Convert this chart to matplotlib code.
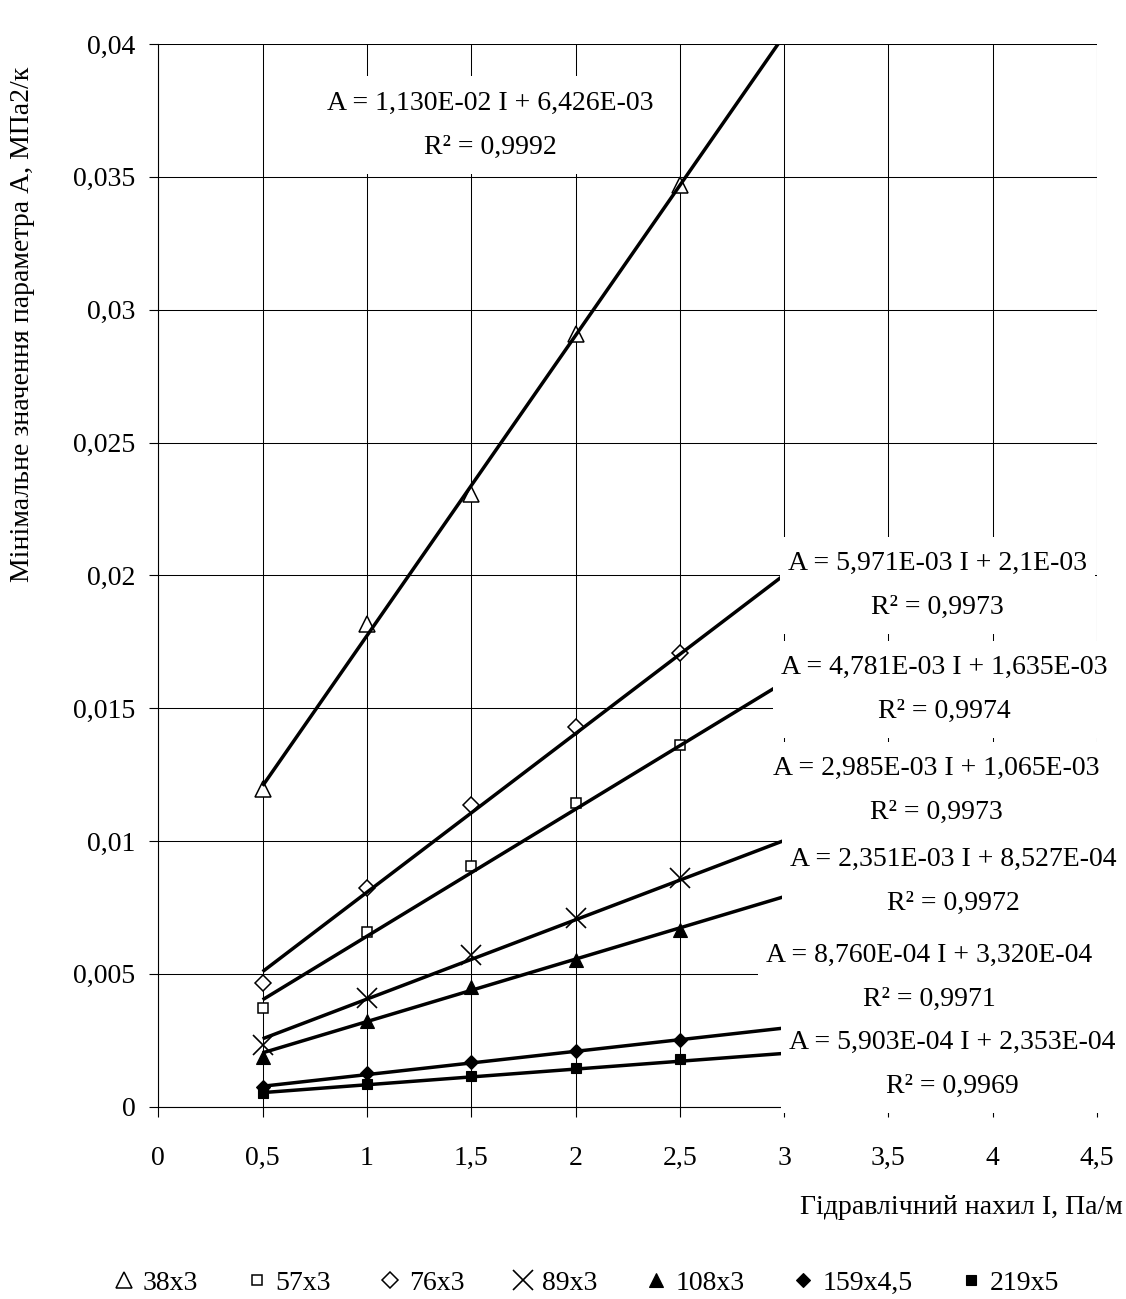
import matplotlib
matplotlib.use("Agg")
import matplotlib.pyplot as plt
from matplotlib.patches import Rectangle
import numpy as np

plt.rcParams['font.family'] = ['Liberation Serif', 'DejaVu Serif']

# ---------------- data ----------------
slope_I = [0.5, 1.0, 1.5, 2.0, 2.5]
series_names = ["38x3", "57x3", "76x3", "89x3", "108x3", "159x4,5", "219x5"]
a_38x3 = [0.01194, 0.01815, 0.02305, 0.02908, 0.03469]
a_57x3 = [0.00372, 0.00659, 0.00907, 0.01143, 0.01361]
a_76x3 = [0.00467, 0.00823, 0.01136, 0.01429, 0.01708]
a_89x3 = [0.00232, 0.00410, 0.00571, 0.00710, 0.00860]
a_108x3 = [0.00188, 0.00324, 0.00452, 0.00552, 0.00665]
a_159x45 = [0.00074, 0.00128, 0.00169, 0.00210, 0.00251]
a_219x5 = [0.00053, 0.00085, 0.00116, 0.00146, 0.00180]

# linear trend coefficients (slope, intercept) per series
trend_k = [1.130e-02, 4.781e-03, 5.971e-03, 2.985e-03, 2.351e-03, 8.760e-04, 5.903e-04]
trend_b = [6.426e-03, 1.635e-03, 2.1e-03, 1.065e-03, 8.527e-04, 3.320e-04, 2.353e-04]
trend_range = [0.5, 3.0]
eq_texts = ["A = 1,130E-02 I + 6,426E-03\nR² = 0,9992",
            "A = 4,781E-03 I + 1,635E-03\nR² = 0,9974",
            "A = 5,971E-03 I + 2,1E-03\nR² = 0,9973",
            "A = 2,985E-03 I + 1,065E-03\nR² = 0,9973",
            "A = 2,351E-03 I + 8,527E-04\nR² = 0,9972",
            "A = 8,760E-04 I + 3,320E-04\nR² = 0,9971",
            "A = 5,903E-04 I + 2,353E-04\nR² = 0,9969"]

x_ticks = [0, 0.5, 1, 1.5, 2, 2.5, 3, 3.5, 4, 4.5]
x_tick_labels = ["0", "0,5", "1", "1,5", "2", "2,5", "3", "3,5", "4", "4,5"]
y_ticks = [0, 0.005, 0.01, 0.015, 0.02, 0.025, 0.03, 0.035, 0.04]
y_tick_labels = ["0", "0,005", "0,01", "0,015", "0,02", "0,025", "0,03", "0,035", "0,04"]

all_series = [a_38x3, a_57x3, a_76x3, a_89x3, a_108x3, a_159x45, a_219x5]

# ---------------- styles ----------------
marker_styles = [
    dict(marker='^', ms=12, mfc='white', mec='black', mew=1.1),
    dict(marker='s', ms=7.5, mfc='white', mec='black', mew=1.1),
    dict(marker='D', ms=8.2, mfc='white', mec='black', mew=1.1),
    dict(marker='x', ms=15, mfc='none', mec='black', mew=1.2),
    dict(marker='^', ms=9.5, mfc='black', mec='black', mew=0.8),
    dict(marker='D', ms=7.6, mfc='black', mec='black', mew=0.8),
    dict(marker='s', ms=7.6, mfc='black', mec='black', mew=0.8),
]

W, H = 1126, 1299
def fx(px):
    return px / W
def fy(py):
    return 1 - py / H

FS = 20

fig = plt.figure(figsize=(W / 100, H / 100), dpi=100)
ax = fig.add_axes([fx(158.3), fy(1106.7), (1097 - 158.3) / W, (1106.7 - 44) / H])

ax.set_xlim(0, 4.5)
ax.set_ylim(0, 0.04)
ax.set_xticks(x_ticks)
ax.set_xticklabels(x_tick_labels, fontsize=FS)
ax.set_yticks(y_ticks)
ax.set_yticklabels(y_tick_labels, fontsize=FS)
ax.tick_params(axis='x', direction='out', length=7, width=0.8, pad=21)
ax.tick_params(axis='y', direction='out', length=6.5, width=0.8, pad=10)
ax.grid(True, color='black', linewidth=0.75, zorder=0)
ax.set_axisbelow(True)
for s in ['top', 'right']:
    ax.spines[s].set_visible(False)
for s in ['left', 'bottom']:
    ax.spines[s].set_linewidth(0.8)

handles = []
for name, vals, st in zip(series_names, all_series, marker_styles):
    h, = ax.plot(slope_I, vals, linestyle='none', label=name, zorder=3, **st)
    handles.append(h)

xt = np.array(trend_range)
for k, b in zip(trend_k, trend_b):
    ax.plot(xt, k * xt + b, color='black', linewidth=2.5, zorder=4,
            solid_capstyle='butt')

# equation labels (centre positions in pixels)
label_pos = [(490, 125), (944, 689), (937.5, 585), (936, 790),
             (953.5, 881.5), (929, 977.5), (952, 1064)]
eq_artists = []
for txt, (px, py) in zip(eq_texts, label_pos):
    t = fig.text(fx(px), fy(py), txt, ha='center', va='center', fontsize=FS,
                 multialignment='center', linespacing=2.0, zorder=7)
    eq_artists.append(t)

fig.text(fx(23), fy(582), "Мінімальне значення параметра А, МПа2/к",
         rotation=90, ha='center', va='bottom', fontsize=FS)
fig.text(fx(1123), fy(1207), "Гідравлічний нахил I, Па/м",
         ha='right', va='center', fontsize=FS)

fig.legend(handles=handles, loc='center', bbox_to_anchor=(fx(586), fy(1283)),
           ncol=7, frameon=False, fontsize=FS, handlelength=0.8,
           handletextpad=0.28, columnspacing=1.72, borderpad=0, borderaxespad=0)

# white label backgrounds (Excel-style data label boxes)
fig.canvas.draw()
renderer = fig.canvas.get_renderer()
hpad, vpad = 8, 14
for t in eq_artists:
    bb = t.get_window_extent(renderer)
    x0, y0 = bb.x0 - hpad, bb.y0 - vpad
    rect = Rectangle((x0 / W, y0 / H), (bb.width + 2 * hpad) / W,
                     (bb.height + 2 * vpad) / H, transform=fig.transFigure,
                     facecolor='white', edgecolor='none', zorder=6)
    fig.patches.append(rect)

fig.savefig("out.png", dpi=100)
